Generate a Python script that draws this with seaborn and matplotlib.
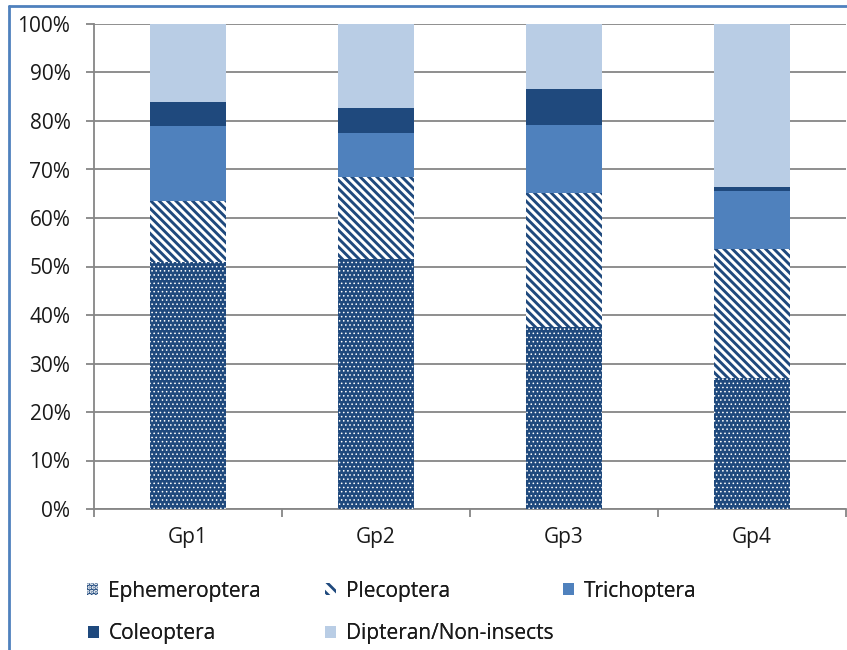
import numpy as np
import pandas as pd
import matplotlib
matplotlib.use("Agg")
import matplotlib.pyplot as plt
import seaborn as sns
from matplotlib.patches import Patch
from matplotlib.lines import Line2D
from matplotlib.ticker import FixedLocator

# ---- data (percent of each group) ----
groups = ["Gp1", "Gp2", "Gp3", "Gp4"]
ephemeroptera = [51.0, 51.5, 37.6, 27.0]
plecoptera = [12.5, 17.0, 27.5, 26.6]
trichoptera = [15.5, 9.0, 14.1, 12.0]
coleoptera = [4.9, 5.2, 7.3, 0.7]
dipteran = [16.1, 17.3, 13.5, 33.7]
series_names = ["Ephemeroptera", "Plecoptera", "Trichoptera", "Coleoptera", "Dipteran/Non-insects"]
y_ticks = [0, 10, 20, 30, 40, 50, 60, 70, 80, 90, 100]

sns.set_style("white")
plt.rcParams["font.family"] = ["Open Sans", "DejaVu Sans"]
plt.rcParams["hatch.linewidth"] = 2.0

DARK = "#1F497D"
MID = "#4F81BD"
LIGHT = "#B9CDE5"
TXT = "#1a1a1a"
GRID = "#868686"
FS = 15

df = pd.DataFrame({
    "group": groups,
    "Ephemeroptera": ephemeroptera,
    "Plecoptera": plecoptera,
    "Trichoptera": trichoptera,
    "Coleoptera": coleoptera,
    "Dipteran/Non-insects": dipteran,
})
cum = df[series_names].cumsum(axis=1)

fig = plt.figure(figsize=(8.47, 6.5), dpi=100)
ax = fig.add_axes([94 / 847, 1 - 509 / 650, 752 / 847, 485 / 650])

STRIPES = "\\\\\\\\"
DOTS = "...."
styles = {
    "Dipteran/Non-insects": dict(color=LIGHT, hatch=None, edgecolor=LIGHT, hlw=None),
    "Coleoptera": dict(color=DARK, hatch=None, edgecolor=DARK, hlw=None),
    "Trichoptera": dict(color=MID, hatch=None, edgecolor=MID, hlw=None),
    "Plecoptera": dict(color="white", hatch=STRIPES, edgecolor=DARK, hlw=2.1),
    "Ephemeroptera": dict(color=DARK, hatch=DOTS, edgecolor="white", hlw=0.6),
}

for name in series_names[::-1]:
    st = styles[name]
    n_before = len(ax.patches)
    sns.barplot(x=df["group"], y=cum[name], color=st["color"], saturation=1,
                width=0.4, ax=ax, edgecolor=st["edgecolor"], linewidth=0,
                hatch=st["hatch"], zorder=3)
    for p in ax.patches[n_before:]:
        p.set_facecolor(st["color"])
        p.set_edgecolor(st["edgecolor"])
        p.set_linewidth(0)
        if st["hatch"]:
            p.set_hatch(st["hatch"])
            if st["hlw"] is not None and hasattr(p, "set_hatch_linewidth"):
                p.set_hatch_linewidth(st["hlw"])

ax.set_xlim(-0.5, 3.5)
ax.set_ylim(0, 100)
ax.set_xlabel("")
ax.set_ylabel("")
ax.set_yticks(y_ticks)
ax.set_yticklabels([f"{v}%" for v in y_ticks])
ax.yaxis.grid(True, color=GRID, linewidth=1.3, zorder=0)
ax.xaxis.grid(False)
ax.set_axisbelow(True)

for s in ["top", "right"]:
    ax.spines[s].set_visible(False)
for s in ["left", "bottom"]:
    ax.spines[s].set_visible(True)
    ax.spines[s].set_color(GRID)
    ax.spines[s].set_linewidth(1.3)

ax.tick_params(axis="y", which="major", length=6, width=1.3, color=GRID,
               pad=11, labelsize=FS, labelcolor=TXT, left=True)
ax.tick_params(axis="x", which="major", length=0, pad=13, labelsize=FS, labelcolor=TXT)
ax.xaxis.set_minor_locator(FixedLocator([-0.5, 0.5, 1.5, 2.5, 3.5]))
ax.tick_params(axis="x", which="minor", length=6, width=1.3, color=GRID, bottom=True)

# ---- legend (fixed slots like the original) ----
handles = {
    "Ephemeroptera": Patch(facecolor=DARK, edgecolor="white", hatch=DOTS, linewidth=0),
    "Plecoptera": Patch(facecolor="white", edgecolor=DARK, hatch="\\\\\\", linewidth=0),
    "Trichoptera": Patch(facecolor=MID, edgecolor=MID, linewidth=0),
    "Coleoptera": Patch(facecolor=DARK, edgecolor=DARK, linewidth=0),
    "Dipteran/Non-insects": Patch(facecolor=LIGHT, edgecolor=LIGHT, linewidth=0),
}
slots = {
    "Ephemeroptera": (87, 591),
    "Plecoptera": (325, 591),
    "Trichoptera": (563, 591),
    "Coleoptera": (88, 634),
    "Dipteran/Non-insects": (325, 634),
}
for name in series_names:
    x, y = slots[name]
    leg = fig.legend(handles=[handles[name]], labels=[name], loc="center left",
                     bbox_to_anchor=(x / 847, 1 - y / 650), frameon=False,
                     borderpad=0, borderaxespad=0, handlelength=0.55, handleheight=0.55,
                     handletextpad=0.45, fontsize=FS, labelcolor=TXT)
    fig.add_artist(leg)

# ---- outer chart border (left and top visible) ----
fig.add_artist(Line2D([9 / 847, 9 / 847], [0, 1 - 6 / 650], transform=fig.transFigure,
                      color="#4F81BD", linewidth=2))
fig.add_artist(Line2D([9 / 847, 1], [1 - 6 / 650, 1 - 6 / 650], transform=fig.transFigure,
                      color="#4F81BD", linewidth=2))

fig.savefig("out.png", dpi=100, facecolor="white")
